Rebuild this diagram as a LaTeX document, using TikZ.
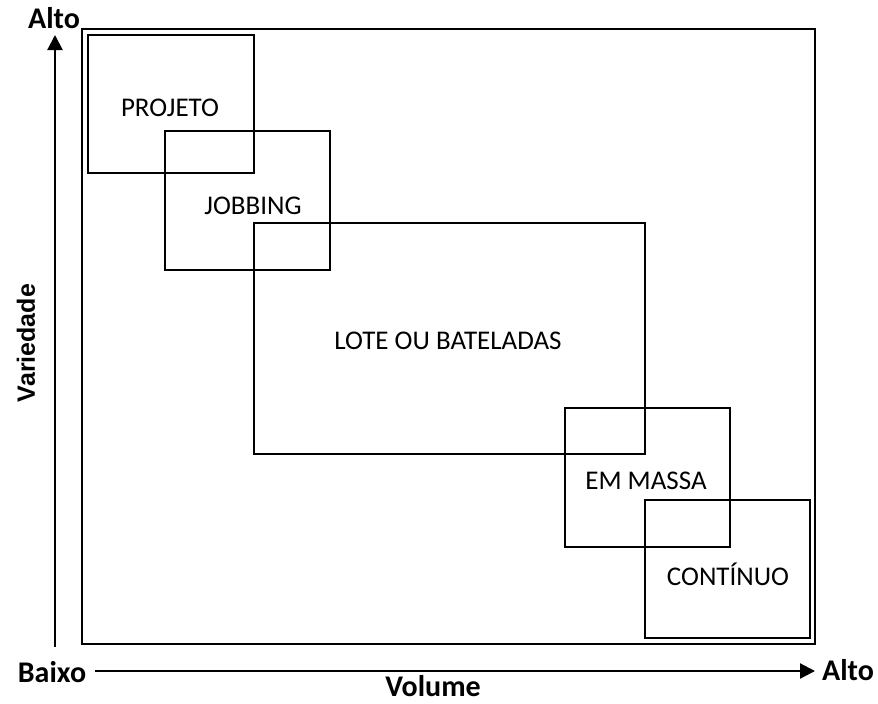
\documentclass[tikz,border=0pt]{standalone}
\usepackage{fontspec}
\setmainfont{Carlito}
\newfontfamily\arialbold{Liberation Sans}[BoldFont={* Bold}]
\usetikzlibrary{arrows.meta}
\begin{document}
\begin{tikzpicture}[x=1pt,y=-1pt,
  frame/.style={draw, line width=1.8pt},
  zone/.style={draw, line width=2pt, fill=none},
  zonetext/.style={font=\fontsize{27}{30}\selectfont, inner sep=0pt},
  axislabel/.style={font=\fontsize{30}{33}\selectfont\bfseries, inner sep=0pt},
  axis/.style={line width=2.2pt, -{Triangle[length=15pt,width=15pt]}}]
\useasboundingbox (0,0) rectangle (878,704);
% outer frame
\draw[frame] (82,29) rectangle (815,644);
% process zones, from high variety to high volume
\draw[zone] (88,35) rectangle (254,173);
\draw[zone] (165,131) rectangle (330,270);
\draw[zone] (254,223) rectangle (645,454);
\draw[zone] (565,408) rectangle (730,547);
\draw[zone] (645,500) rectangle (810,638);
\node[zonetext] (projeto) at (170,108) {PROJETO};
\node[zonetext] (jobbing) at (253,206) {JOBBING};
\node[zonetext] (lote) at (448,341) {LOTE OU BATELADAS};
\node[zonetext] (massa) at (646,481) {EM MASSA};
\node[zonetext] (continuo) at (728,574) {CONTÍNUO};
% axes
\node[axislabel] (vtop) at (54,18) {Alto};
\node[axislabel] (hleft) at (52,672) {Baixo};
\node[axislabel] (hright) at (848,670) {Alto};
\node[axislabel] (volume) at (433,686) {Volume};
\node[inner sep=0pt, font=\fontsize{25}{28}\selectfont\arialbold\bfseries, rotate=90]
  (variedade) at (26,343) {Variedade};
\coordinate (vbase) at (55,647);
\coordinate (vtip) at (55,35);
\coordinate (hbase) at (95,671);
\coordinate (htip) at (815,671);
\draw[axis] (vbase) -- (vtip);
\draw[axis] (hbase) -- (htip);
\end{tikzpicture}
\end{document}
